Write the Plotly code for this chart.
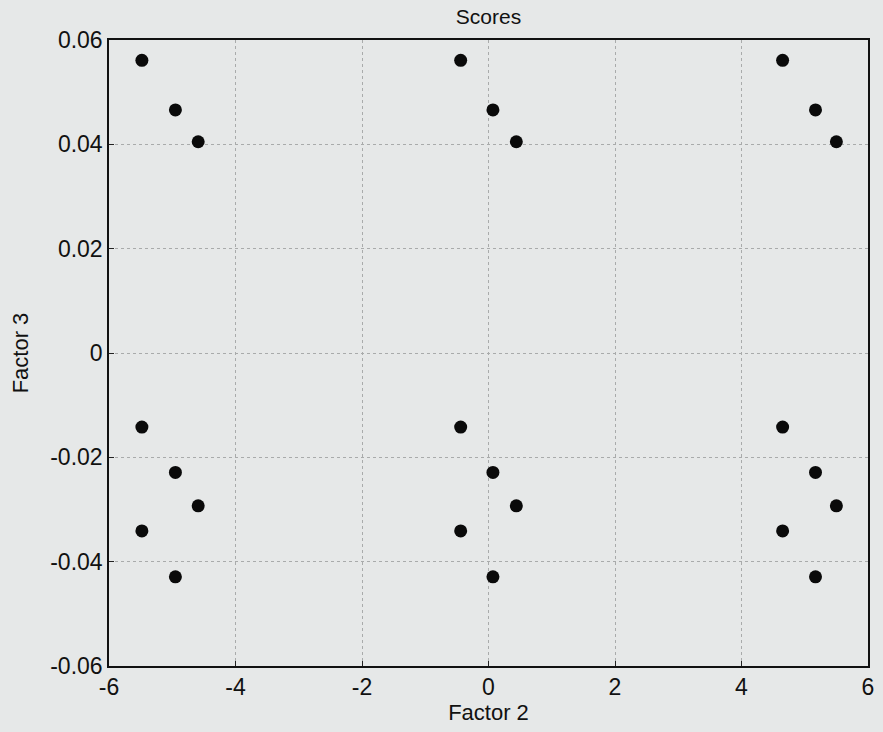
import plotly.graph_objects as go

# Score values: three clusters along Factor 2, each with an upper and lower group on Factor 3
factor2 = [
    -5.48, -4.95, -4.59, -5.48, -4.95, -4.59, -5.48, -4.95,
    -0.44, 0.07, 0.44, -0.44, 0.07, 0.44, -0.44, 0.07,
    4.65, 5.17, 5.50, 4.65, 5.17, 5.50, 4.65, 5.17,
]
factor3 = [
    0.0561, 0.0466, 0.0405, -0.0142, -0.0229, -0.0293, -0.0341, -0.0429,
    0.0561, 0.0466, 0.0405, -0.0142, -0.0229, -0.0293, -0.0341, -0.0429,
    0.0561, 0.0466, 0.0405, -0.0142, -0.0229, -0.0293, -0.0341, -0.0429,
]

x_ticks = [-6, -4, -2, 0, 2, 4, 6]
y_ticks = [-0.06, -0.04, -0.02, 0, 0.02, 0.04, 0.06]
y_tick_labels = ["-0.06", "-0.04", "-0.02", "0", "0.02", "0.04", "0.06"]

FONT = "Liberation Sans, Arial, sans-serif"
BG = "#e6e8e8"

fig = go.Figure(
    go.Scatter(
        x=factor2,
        y=factor3,
        mode="markers",
        marker=dict(color="#0a0a0a", size=13, line=dict(width=0)),
        showlegend=False,
    )
)

axis_common = dict(
    showline=True,
    linecolor="#111111",
    linewidth=1.5,
    mirror=True,
    ticks="inside",
    ticklen=5,
    tickcolor="#222222",
    showgrid=True,
    gridcolor="#a9abab",
    griddash="dot",
    gridwidth=1,
    zeroline=False,
    tickfont=dict(family=FONT, size=23, color="#111111"),
)

fig.update_layout(
    width=883,
    height=732,
    margin=dict(l=109, r=9, t=40, b=66),
    paper_bgcolor=BG,
    plot_bgcolor=BG,
    font=dict(family=FONT, color="#111111"),
    title=dict(
        text="Scores",
        font=dict(family=FONT, size=21, color="#111111"),
        x=0.5,
        xref="paper",
        xanchor="center",
        y=1 - 17 / 732,
        yref="container",
        yanchor="middle",
    ),
    xaxis=dict(
        range=[-6, 6],
        tickvals=x_ticks,
        ticktext=[str(v) for v in x_ticks],
        title=dict(text="Factor 2", font=dict(family=FONT, size=22), standoff=2),
        **axis_common,
    ),
    yaxis=dict(
        range=[-0.06, 0.06],
        tickvals=y_ticks,
        ticktext=y_tick_labels,
        title=dict(text="Factor 3", font=dict(family=FONT, size=22), standoff=16),
        **axis_common,
    ),
)

fig.write_html("out.html")
